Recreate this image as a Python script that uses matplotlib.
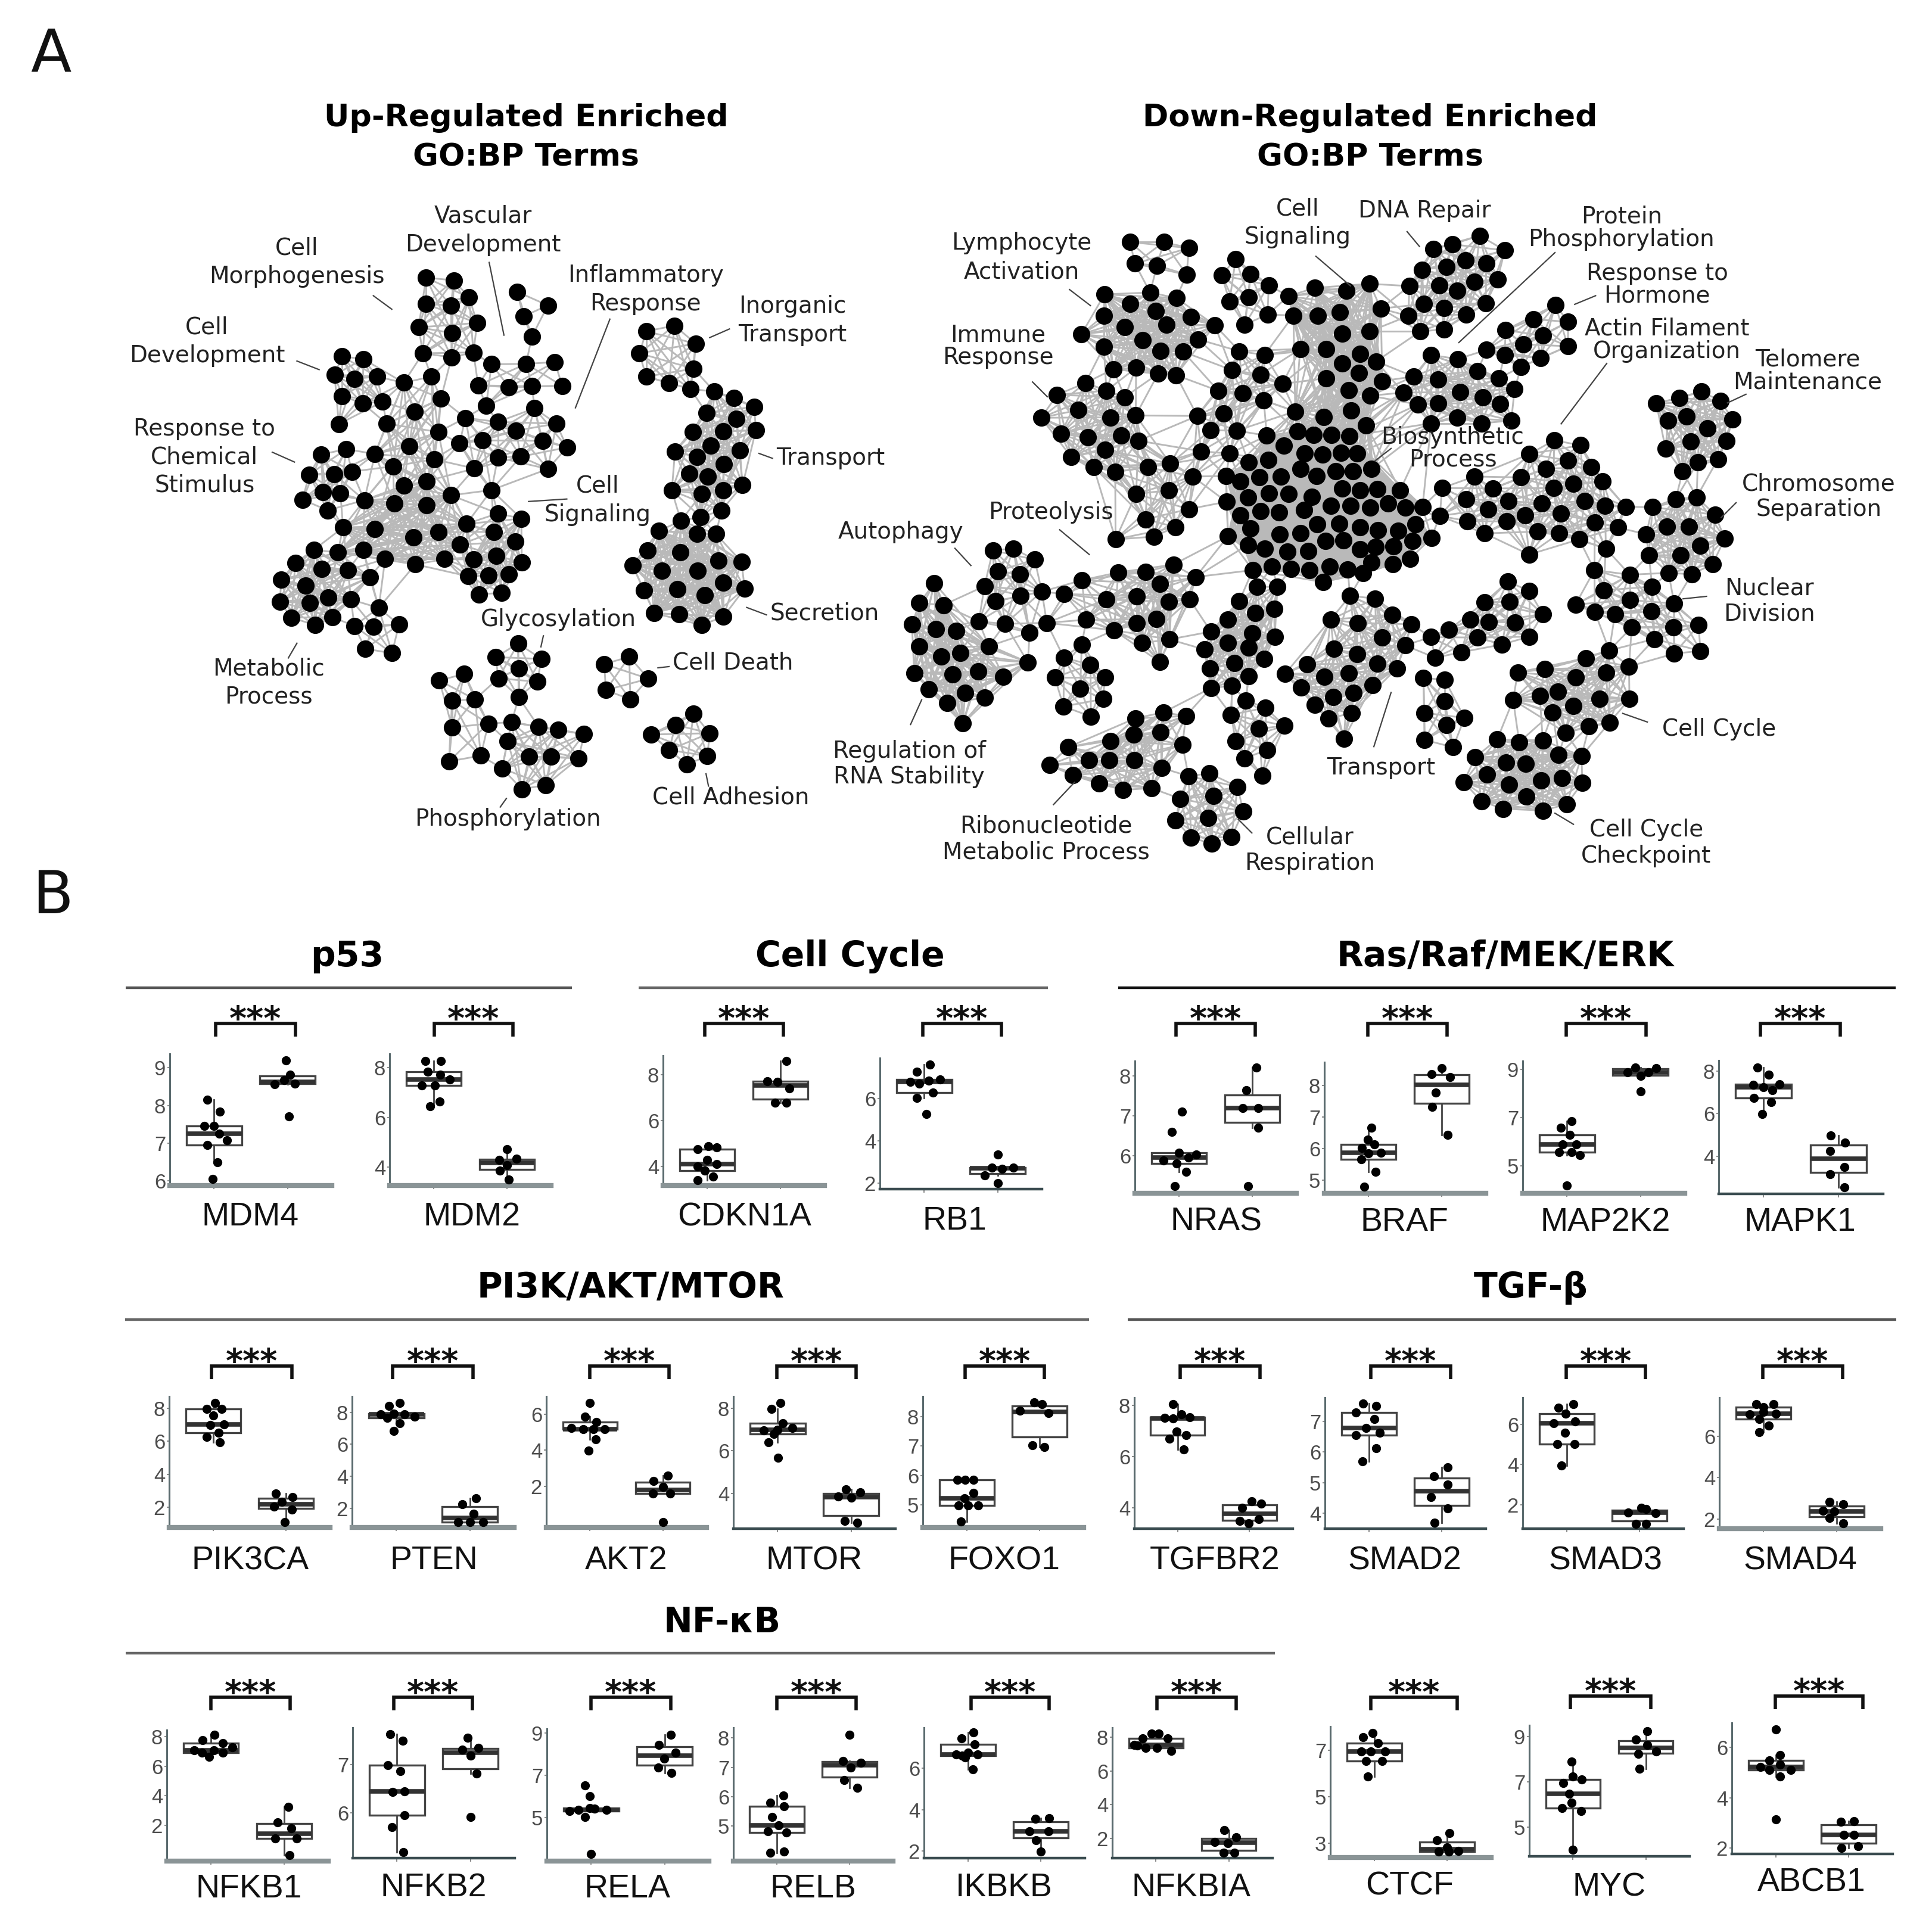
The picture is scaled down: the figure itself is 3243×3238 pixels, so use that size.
import matplotlib
matplotlib.use("Agg")
import matplotlib.pyplot as plt
from matplotlib.collections import LineCollection
import numpy as np

W, H = 3243, 3238
THUMB = 3243 / 1568

# ---- network nodes, in the coordinates of the three crops they were read from
UP_CLUSTERS = {
    "u1": [(633,225),(685,231),(633,285),(680,288),(714,270),(619,338),(682,351),(729,328),(627,397),(681,406),(722,395)],
    "u2": [(804,257),(862,288),(816,313),(832,359)],
    "u3": [(821,421),(875,417),(789,474),(832,472),(889,471),(756,422),(731,470),(746,516)],
    "u4": [(837,522),(878,557),(802,573),(852,596),(898,611),(768,553),(707,544),(696,602),(739,595),(768,634),(811,632),(724,659),(862,660),(756,708)],
    "u5": [(475,404),(515,410),(461,446),(498,455),(541,450),(475,494),(514,511),(551,507),(469,558)],
    "u6": [(591,464),(643,450),(661,500),(611,530),(559,557),(656,576),(601,608),(537,626),(648,638),(571,654)],
    "u7": [(483,615),(436,627),(413,673),(460,672),(494,666),(439,713),(472,716),(401,730),(448,754)],
    "u8": [(591,698),(634,688),(680,720),(517,731),(573,739),(634,743),(477,793),(536,796),(609,816),(656,804),(709,785),(515,844),(467,850),(556,865),(613,877),(668,865),(697,832)],
    "u9": [(768,761),(812,773),(761,803),(801,825),(722,866),(765,857),(813,873),(712,904),(750,902),(788,899),(732,945),(775,942)],
    "u10": [(422,844),(387,874),(437,888),(486,890),(527,906),(361,912),(407,925),(358,962),(414,965),(449,952),(492,957),(380,998),(424,1015),(457,997)],
    "u11": [(544,976),(498,1017),(534,1019),(582,1014),(519,1069),(569,1079)],
    "inorganic": [(1047,347),(1100,334),(1140,375),(1034,397),(1136,432),(1047,450),(1090,465),(1130,478)],
    "transport": [(1175,484),(1212,498),(1250,519),(1160,532),(1216,546),(1253,572),(1135,576),(1192,575),(1168,607),(1223,618),(1101,620),(1142,633),(1193,649),(1128,670),(1163,678),(1228,697),(1095,709),(1151,717),(1192,708),(1188,755),(1149,769)],
    "secretion": [(1112,778),(1071,801),(1142,808),(1178,808),(1050,846),(1111,850),(1021,879),(1076,892),(1144,891),(1183,869),(1226,871),(1192,918),(1043,936),(1105,934),(1157,947),(1232,932),(1062,988),(1109,991),(1192,996),(1151,1015)],
    "glyco": [(806,1057),(764,1088),(850,1092),(807,1114),(769,1136),(842,1144),(807,1179)],
    "phos_l": [(658,1141),(705,1126),(682,1187),(725,1184),(682,1248),(750,1239),(676,1325),(736,1312)],
    "phos_r": [(794,1236),(786,1279),(845,1247),(882,1253),(930,1263),(827,1314),(868,1314),(920,1318),(776,1341),(813,1388),(858,1379)],
    "death": [(968,1104),(1015,1087),(1051,1137),(971,1163),(1017,1184)],
    "adhesion": [(1136,1216),(1102,1242),(1056,1264),(1166,1261),(1090,1299),(1162,1313),(1123,1332)],
}
DOWN_L_CLUSTERS = {
    "d1": [(779,138),(868,138),(934,151),(792,185),(850,189),(928,209)],
    "d2": [(712,252),(832,248),(901,260),(780,273),(846,288),(710,298),(940,301),(765,323),(875,318),(1002,319),(651,339),(813,352),(958,350),(710,366),(860,375),(919,377),(735,415),(795,412),(853,425),(900,428)],
    "d3": [(1057,175),(1020,210),(1096,208),(1144,232),(1041,267),(1091,258),(1141,296),(1081,318)],
    "d4": [(662,445),(717,462),(587,471),(765,476),(643,504),(545,521),(727,520),(794,516),(597,556),(668,564),(755,559),(801,571),(714,591),(624,606),(683,628),(740,639),(826,629),(885,621),(944,649),(795,687),(881,679),(934,720),(820,742),(898,759),(842,780),(741,786)],
    "d5": [(1067,376),(1133,384),(1047,417),(1122,427),(1180,447),(1011,462),(1075,467),(1131,483),(956,517),(1026,512),(991,548),(1060,549),(966,594),(1041,599)],
    "d6": [(1265,238),(1349,244),(1410,229),(1196,256),(1439,283),(1209,298),(1273,299),(1332,291),(1338,337),(1409,333),(1227,371),(1295,371),(1385,382),(1337,403),(1427,398),(1295,435),(1381,423),(1443,441),(1355,461),(1411,473),(1361,505),(1214,507),(1289,519),(1401,538)],
    "d7": [(1139,560),(1220,551),(1263,558),(1310,558),(1357,561),(1184,582),(1238,599),(1285,601),(1335,597),(1377,598),(1091,618),(1143,613),(1227,632),(1321,637),(1366,637),(1415,632),(1032,648),(1070,659),(1120,650),(1176,649),(1270,648),(1337,675),(1384,679),(1430,677),(1490,679),(1090,694),(1145,685),(1197,687),(1257,693),(1033,704),(1070,733),(1123,725),(1172,727),(1237,722),(1307,713),(1360,713),(1411,717),(1458,707),(1503,717),(1549,715),(1096,762),(1173,775),(1227,773),(1271,753),(1330,752),(1385,760),(1431,766),(1485,767),(1530,753),(1037,779),(1089,798),(1134,806),(1193,813),(1248,811),(1293,790),(1340,788),(1385,808),(1426,802),(1473,801),(1522,790),(1153,845),(1203,850),(1251,853),(1304,845),(1352,852),(1393,860),(1415,836),(1471,840),(1516,828),(1102,853),(1287,879),(1572,783)],
    "d8": [(893,841),(748,858),(820,857),(652,875),(857,883),(952,868),(606,905),(716,917),(797,910),(882,922),(936,917),(664,961),(560,968),(797,968),(849,960),(737,984),(811,1012),(883,1004),(857,1053)],
    "d9": [(418,810),(472,806),(528,830),(431,855),(489,862),(396,888),(547,900),(491,909),(425,921),(381,965),(450,970),(515,989)],
    "d10": [(264,881),(225,925),(288,929),(205,971),(268,981),(321,985),(225,1019),(283,1041),(333,1034),(407,1019),(211,1077),(312,1080),(379,1074),(446,1085),(510,1054),(250,1113),(345,1120),(397,1131),(298,1143),(339,1187)],
    "d11": [(652,1015),(605,1044),(675,1059),(581,1087),(713,1087),(648,1111),(708,1134),(604,1150),(676,1172)],
    "d12": [(1114,890),(1167,889),(1067,920),(1158,938),(1108,947),(1036,961),(992,987),(1100,990),(1160,998),(1036,1012),(975,1026),(1092,1022),(1053,1055),(1132,1047),(989,1067),(1091,1084),(992,1110),(1048,1105)],
    "d13": [(1084,1137),(1135,1153),(1045,1168),(1186,1192),(1118,1199),(1057,1226),(1140,1245),(1080,1263),(1127,1301)],
    "d14": [(867,1163),(926,1171),(793,1176),(860,1206),(788,1211),(917,1234),(727,1225),(671,1267),(725,1267),(791,1267),(862,1284),(697,1318),(761,1332),(835,1328),(616,1239),(567,1278),(628,1300)],
    "d15": [(933,1302),(988,1296),(1062,1325),(911,1351),(999,1345),(1077,1379),(985,1393),(899,1398),(1046,1435),(940,1436),(994,1449)],
    "d16": [(1358,909),(1424,915),(1307,961),(1378,968),(1469,950),(1520,971),(1443,1000),(1315,1024),(1503,1017),(1377,1036),(1430,1057),(1481,1067),(1354,1077),(1290,1085),(1245,1058),(1187,1079),(1230,1109),(1417,1104),(1368,1121),(1314,1130),(1265,1147),(1362,1165),(1302,1176),(1342,1220)],
}
DOWN_R_CLUSTERS = {
    "dna": [(445,124),(373,143),(323,153),(511,156),(408,178),(462,185),(358,192),(293,198),(431,225),(492,219),(338,233),(386,244),(260,234),(298,273),(351,282),(461,272),(409,296),(257,299),(288,333),(351,328)],
    "hormone": [(644,275),(586,306),(678,312),(513,330),(611,342),(560,361),(677,365),(463,373),(511,384),(606,391),(554,410)],
    "protphos": [(317,384),(387,393),(439,420),(271,431),(495,435),(336,438),(393,465),(537,458),(244,466),(283,492),(336,489),(453,477),(499,491),(386,521),(317,533),(450,533),(528,527)],
    "actin": [(641,570),(710,581),(576,600),(678,614),(739,628),(619,632),(554,651),(769,659),(639,674),(692,665),(431,649),(346,674),(480,675),(409,698),(520,703),(609,707),(721,703),(775,713),(829,715),(340,735),(467,720),(564,733),(658,730),(413,746),(516,747),(748,749),(809,760),(597,769),(654,773),(458,773),(707,786),(777,806),(575,819)],
    "telomere": [(1028,464),(971,478),(1079,484),(910,490),(989,518),(941,527),(1110,524),(1045,544),(1001,573),(1095,571),(934,588),(1072,611),(1019,618),(979,638)],
    "chromo": [(1016,694),(961,698),(900,716),(1064,732),(938,758),(995,758),(883,775),(1090,784),(1026,800),(890,820),(974,821),(1058,840),(942,859),(1003,862)],
    "nuclear": [(747,853),(840,863),(899,889),(771,897),(840,918),(957,926),(697,928),(748,944),(801,949),(897,943),(845,978),(955,978),(1021,973),(905,1003),(957,1035),(1026,1029)],
    "tr_right": [(519,878),(575,898),(458,923),(523,922),(611,949),(421,961),(469,966),(538,967),(364,983),(316,999),(439,1000),(575,998),(504,1015),(396,1032),(328,1044)],
    "tr_small": [(297,1088),(353,1092),(353,1139),(299,1164),(405,1175),(357,1190),(300,1223),(375,1239)],
    "cycle": [(786,1028),(725,1045),(838,1063),(777,1076),(697,1087),(545,1076),(616,1069),(650,1118),(603,1127),(533,1136),(760,1133),(839,1134),(691,1149),(637,1163),(787,1185),(733,1193),(671,1207)],
    "checkpoint": [(491,1222),(549,1228),(611,1224),(653,1255),(713,1258),(433,1261),(514,1273),(566,1275),(464,1298),(403,1315),(607,1311),(661,1306),(715,1317),(522,1321),(567,1346),(450,1357),(507,1373),(612,1377),(674,1363)],
}
DENSE = {"u8": 240, "secretion": 210, "d7": 210, "inorganic": 190, "d2": 165, "d6": 190, "d10": 165, "d4": 130, "d5": 125,
         "d8": 140, "d12": 135, "d14": 150, "d15": 140, "checkpoint": 160, "cycle": 145, "d16": 125, "chromo": 150,
         "telomere": 150, "nuclear": 115, "protphos": 130, "u9": 150, "u6": 150, "u10": 145, "transport": 120, "phos_r": 125}
LINKS = [("u1","u6",4),("u1","u3",2),("u5","u6",7),("u6","u8",30),("u7","u8",8),("u8","u9",25),("u8","u10",14),
         ("u10","u11",5),("u8","u4",5),("u4","u3",3),("u4","u6",5),("u9","u4",3),("u3","u2",1),("u7","u6",4),("u8","u11",3),
         ("inorganic","transport",3),("transport","secretion",8),("glyco","phos_r",2),("phos_l","phos_r",3),("glyco","phos_l",1),
         ("d1","d2",3),("d2","d4",10),("d2","d5",8),("d3","d6",3),("d4","d5",16),("d5","d6",14),("d5","d7",12),("d6","d7",110),
         ("d6","dna",9),("d6","protphos",10),("protphos","d7",12),("protphos","hormone",5),("d7","actin",5),
         ("actin","chromo",2),("actin","nuclear",5),("chromo","telomere",5),("chromo","nuclear",6),("nuclear","cycle",7),
         ("cycle","checkpoint",12),("d7","d12",6),("d7","d16",2),("d8","d7",4),("d8","d9",6),("d8","d11",3),("d9","d10",10),
         ("d12","d13",4),("d12","d14",2),("d14","d15",3),("d16","tr_right",3),("d8","d12",3),("d4","d7",3),("d13","d12",3)]

# ---- text and leader lines of panel A, positions in the downsized view
NET_LABELS = [
    ("Cell\nMorphogenesis",241,213,1.32),("Vascular\nDevelopment",392,187,1.32),("Inflammatory\nResponse",524,235,1.32),
    ("Inorganic\nTransport",643,260,1.32),("Cell\nDevelopment",168,277,1.32),("Response to\nChemical\nStimulus",166,371,1.32),
    ("Transport",674,372,1.32),("Cell\nSignaling",485,406,1.32),("Secretion",669,498,1.32),("Glycosylation",453,503,1.32),
    ("Cell Death",595,538,1.32),("Metabolic\nProcess",218,554,1.32),("Phosphorylation",412,665,1.32),("Cell Adhesion",593,647,1.32),
    ("Lymphocyte\nActivation",829,209,1.32),("Cell\nSignaling",1053,181,1.32),("DNA Repair",1156,171,1.32),
    ("Protein\nPhosphorylation",1316,185,1.0),("Response to\nHormone",1345,231,1.0),("Actin Filament\nOrganization",1353,276,1.0),
    ("Telomere\nMaintenance",1467,301,1.0),("Immune\nResponse",810,281,1.0),("Biosynthetic\nProcess",1179,364,1.0),
    ("Chromosome\nSeparation",1476,403,1.15),("Proteolysis",853,416,1.32),("Autophagy",731,432,1.32),("Nuclear\nDivision",1436,488,1.17),
    ("Cell Cycle",1395,592,1.32),("Transport",1121,623,1.32),("Regulation of\nRNA Stability",738,620,1.17),
    ("Ribonucleotide\nMetabolic Process",849,681,1.17),("Cellular\nRespiration",1063,690,1.2),("Cell Cycle\nCheckpoint",1336,684,1.2),
]
LEADERS = [
    (303,240,318,251),(397,213,409,272),(495,259,467,331),(576,274,592,267),(241,293,259,300),(221,367,239,375),
    (616,368,627,372),(429,407,460,405),(606,493,622,499),(441,516,439,525),(534,542,543,541),(241,522,234,534),
    (411,648,406,655),(573,628,575,638),(868,235,885,248),(1068,208,1096,232),(1142,188,1152,200),(1184,278,1262,205),
    (1278,247,1295,240),(1267,344,1304,295),(1402,327,1417,320),(838,310,850,322),(1116,374,1129,364),(1397,420,1409,408),
    (860,430,884,450),(775,445,788,459),(1366,486,1385,484),(1317,579,1337,586),(1129,562,1115,606),(748,568,739,588),
    (872,635,855,653),(1005,665,1016,676),(1262,660,1277,669),
]

# ---- panel B values
VALUES_CTRL = {
    "MDM4": [8.15,7.84,7.45,7.45,7.24,7.07,6.95,6.49,6.04], "MDM2": [8.28,8.28,7.85,7.73,7.52,7.3,7.28,6.64,6.45],
    "CDKN1A": [4.74,4.88,4.84,4.28,4.09,4.0,3.81,3.55,3.4], "RB1": [7.6,7.28,6.78,6.71,6.86,6.9,6.27,6.03,5.26],
    "NRAS": [7.11,6.6,6.08,6.04,5.89,5.96,5.82,5.6,5.25], "BRAF": [6.67,6.28,6.03,6.14,5.87,5.86,5.66,5.26,4.8],
    "MAP2K2": [6.86,6.59,6.28,5.9,5.9,5.57,5.57,5.46,4.18], "MAPK1": [8.17,7.82,7.35,7.25,7.37,7.1,6.72,6.53,5.98],
    "PIK3CA": [8.32,7.94,7.94,7.55,6.97,7.0,6.52,6.26,5.94], "PTEN": [8.6,8.4,7.87,7.93,7.87,7.73,7.67,7.33,6.84],
    "AKT2": [6.65,5.88,5.58,5.23,5.17,5.17,5.17,4.6,3.98], "MTOR": [8.23,7.97,7.3,6.95,7.0,7.07,6.8,6.4,5.67],
    "FOXO1": [5.86,5.86,5.86,5.42,5.23,4.98,4.98,4.98,4.44], "TGFBR2": [8.04,7.63,7.5,7.48,7.53,6.97,6.84,6.68,6.28],
    "SMAD2": [7.58,7.51,7.3,7.08,6.78,6.56,6.63,6.12,5.7], "SMAD3": [7.0,6.81,6.53,6.05,6.13,5.58,5.02,5.02,3.95],
    "SMAD4": [7.54,7.54,7.38,7.06,7.08,7.16,6.82,6.51,6.2], "NFKB1": [8.14,7.76,7.56,7.07,7.28,6.65,6.93,6.93,7.07],
    "NFKB2": [7.63,7.49,6.99,6.86,6.43,6.45,5.96,5.71,5.19], "RELA": [6.52,6.03,5.31,5.38,5.43,5.38,5.45,5.04,3.29],
    "RELB": [6.03,5.79,5.67,5.31,5.03,4.82,4.78,4.09,4.13], "IKBKB": [7.72,7.42,7.13,6.64,6.51,6.64,6.74,6.6,5.95],
    "NFKBIA": [8.22,8.22,7.94,7.94,7.54,7.39,7.39,7.19,7.5], "CTCF": [7.73,7.55,7.29,6.94,6.94,6.94,6.52,6.52,5.87],
    "MYC": [7.89,7.24,6.95,7.11,6.48,6.09,5.85,5.71,4.0], "ABCB1": [6.71,5.71,5.49,5.22,5.31,5.1,5.1,4.84,3.14],
}
JITTER_CTRL = {
    "MDM4": [-.09,.08,-.13,0,.07,.18,-.09,.05,-.02], "MDM2": [-.11,.1,-.08,.09,.22,-.16,.02,.08,-.05],
    "CDKN1A": [-.13,.02,.13,0,.13,-.13,-.03,.08,-.13], "RB1": [.08,-.1,-.19,-.07,.06,.22,.12,-.1,.03],
    "NRAS": [.04,-.1,0,.24,-.21,.13,-.03,.1,-.06], "BRAF": [.04,-.01,-.09,.08,.17,0,-.1,.1,-.06],
    "MAP2K2": [.06,-.08,.04,-.06,.13,-.11,.06,.18,0], "MAPK1": [-.08,.07,-.14,0,.21,.12,-.13,.1,-.02],
    "PIK3CA": [.03,-.09,.12,0,-.04,.15,.08,-.09,.09], "PTEN": [.05,-.1,-.21,-.03,.11,.25,-.12,.05,-.03],
    "AKT2": [0,-.07,.09,-.26,-.09,.05,.2,.08,-.02], "MTOR": [.04,-.08,.07,-.19,0,.2,-.05,-.12,.01],
    "FOXO1": [-.13,.09,-.02,.09,-.03,-.11,.02,.16,-.08], "TGFBR2": [-.06,.05,-.18,-.06,.17,-.01,.12,-.11,.09],
    "SMAD2": [-.08,.1,-.18,.08,-.04,-.18,.15,.1,-.09], "SMAD3": [.09,-.11,-.01,-.18,.12,-.02,-.13,.11,-.07],
    "SMAD4": [-.1,.14,0,-.19,.17,0,-.06,.07,-.06], "NFKB1": [.05,-.11,.16,-.23,.29,-.02,-.12,.16,.04],
    "NFKB2": [-.09,.08,-.12,.05,-.06,.1,.1,-.07,.09], "RELA": [-.08,-.02,-.29,-.17,.05,.21,-.02,-.08,0],
    "RELB": [.09,-.09,.1,-.07,.02,-.12,.13,-.09,.1], "IKBKB": [.08,-.09,.09,-.16,-.04,.13,0,-.08,.07],
    "NFKBIA": [-.06,.04,-.18,.16,-.3,-.14,.01,.21,-.26], "CTCF": [-.02,-.15,.05,-.18,-.05,.15,-.11,.11,-.09],
    "MYC": [-.02,0,-.13,.12,-.05,-.02,-.15,.11,0], "ABCB1": [0,.06,-.09,-.21,.06,-.09,.21,.06,0],
}
VALUES_CASE = {
    "MDM4": [9.19,8.81,8.68,8.57,8.58,7.7], "MDM2": [4.72,4.34,4.28,4.08,3.85,3.5], "CDKN1A": [8.6,7.72,7.69,7.4,6.79,6.79],
    "RB1": [3.34,2.72,2.67,2.74,2.36,1.99], "NRAS": [8.2,7.64,7.2,7.2,6.71,5.25], "BRAF": [8.56,8.36,8.27,7.78,7.32,6.43],
    "MAP2K2": [9.09,9.06,8.88,8.89,8.73,8.1], "MAPK1": [4.97,4.62,4.25,3.48,3.15,2.52], "PIK3CA": [2.84,2.61,2.32,2.03,1.87,1.1],
    "PTEN": [2.63,2.27,1.67,1.13,1.13,1.13], "AKT2": [2.58,2.29,1.95,1.6,1.6,-0.01], "MTOR": [4.2,4.05,3.87,3.8,2.7,2.63],
    "FOXO1": [8.47,8.41,8.19,8.11,7.03,6.96], "TGFBR2": [4.26,4.16,3.99,3.5,3.55,3.41], "SMAD2": [5.51,5.22,4.94,4.53,4.16,3.7],
    "SMAD3": [1.84,1.63,1.79,1.6,1.07,1.07], "SMAD4": [2.84,2.72,2.41,2.36,2.05,1.79], "NFKB1": [3.25,2.21,1.79,1.1,1.1,-0.01],
    "NFKB2": [7.55,7.31,7.34,7.18,6.82,5.92], "RELA": [8.94,8.46,8.08,7.81,7.37,7.13], "RELB": [8.1,7.22,7.15,6.99,6.57,6.31],
    "IKBKB": [3.55,3.6,2.96,2.96,2.52,1.98], "NFKBIA": [2.48,2.06,1.79,1.7,1.15,1.15], "CTCF": [3.43,3.14,2.82,2.68,2.64,2.64],
    "MYC": [9.23,8.86,8.64,8.34,8.23,7.58], "ABCB1": [3.04,3.06,2.53,2.53,2.08,2.0],
}
JITTER_CASE = {
    "MDM4": [-.02,.03,-.05,-.18,.1,.02], "MDM2": [0,.13,-.11,0,-.1,.02], "CDKN1A": [.08,-.18,-.04,.12,-.07,.08],
    "RB1": [0,-.08,.06,.21,-.18,0], "NRAS": [.06,-.08,-.13,.08,.08,-.06], "BRAF": [0,-.14,.11,-.08,-.13,.08],
    "MAP2K2": [-.07,.21,-.18,.11,0,0], "MAPK1": [-.1,.09,-.11,.08,-.11,.08], "PIK3CA": [-.14,.09,-.06,-.17,.08,-.02],
    "PTEN": [.08,-.1,.05,-.16,0,.18], "AKT2": [.07,-.13,0,-.14,.1,0], "MTOR": [-.07,.12,-.18,0,-.09,.08],
    "FOXO1": [-.08,.03,-.27,.12,-.1,.06], "TGFBR2": [.03,.16,-.1,-.14,.13,-.01], "SMAD2": [.08,-.11,.08,-.15,.08,-.1],
    "SMAD3": [.02,-.16,.09,.22,-.05,.09], "SMAD4": [-.1,.09,-.19,-.03,-.1,.09], "NFKB1": [.06,-.09,.1,-.12,.17,.07],
    "NFKB2": [-.04,-.11,.11,0,.08,0], "RELA": [.08,-.08,.15,-.01,-.09,.09], "RELB": [0,-.09,.16,.02,-.07,.11],
    "IKBKB": [-.08,.11,-.16,.1,-.07,0], "NFKBIA": [-.06,.1,-.19,-.01,-.07,.08], "CTCF": [.03,-.14,0,.15,-.12,.02],
    "MYC": [.02,-.14,.02,.14,-.1,-.09], "ABCB1": [-.11,.07,-.07,.07,.13,-.1],
}
YTICKS = {
    "MDM4": [6,7,8,9], "MDM2": [4,6,8], "CDKN1A": [4,6,8], "RB1": [2,4,6], "NRAS": [6,7,8], "BRAF": [5,6,7,8],
    "MAP2K2": [5,7,9], "MAPK1": [4,6,8], "PIK3CA": [2,4,6,8], "PTEN": [2,4,6,8], "AKT2": [2,4,6], "MTOR": [4,6,8],
    "FOXO1": [5,6,7,8], "TGFBR2": [4,6,8], "SMAD2": [4,5,6,7], "SMAD3": [2,4,6], "SMAD4": [2,4,6], "NFKB1": [2,4,6,8],
    "NFKB2": [6,7], "RELA": [5,7,9], "RELB": [5,6,7,8], "IKBKB": [2,4,6], "NFKBIA": [2,4,6,8], "CTCF": [3,5,7],
    "MYC": [5,7,9], "ABCB1": [2,4,6],
}
YLIMS = {
    "MDM4": (5.87,9.37), "MDM2": (3.26,8.56), "CDKN1A": (3.16,8.84), "RB1": (1.71,7.92), "NRAS": (5.07,8.37),
    "BRAF": (4.59,8.74), "MAP2K2": (3.87,9.35), "MAPK1": (2.22,8.5), "PIK3CA": (.77,8.71), "PTEN": (.8,9.0),
    "AKT2": (-.31,7.01), "MTOR": (2.35,8.55), "FOXO1": (4.24,8.68), "TGFBR2": (3.19,8.29), "SMAD2": (3.5,7.78),
    "SMAD3": (.82,7.32), "SMAD4": (1.54,7.85), "NFKB1": (-.43,8.46), "NFKB2": (5.07,7.76), "RELA": (2.95,9.21),
    "RELB": (3.81,8.35), "IKBKB": (1.67,7.94), "NFKBIA": (.82,8.58), "CTCF": (2.39,8.01), "MYC": (3.71,9.5),
    "ABCB1": (1.76,6.98),
}

# ---- panel B layout in pixels: left, right, bottom, top
AXES_BOX = {
    "MDM4": (285,557,1990,1769), "MDM2": (654,925,1990,1769), "CDKN1A": (1113,1384,1990,1772), "RB1": (1477,1749,1996,1776),
    "NRAS": (1905,2176,2003,1781), "BRAF": (2223,2494,2003,1783), "MAP2K2": (2556,2828,2003,1781), "MAPK1": (2885,3161,2004,1780),
    "PIK3CA": (284,554,2564,2344), "PTEN": (591,863,2564,2344), "AKT2": (917,1186,2564,2344), "MTOR": (1231,1503,2566,2344),
    "FOXO1": (1549,1819,2564,2344), "TGFBR2": (1904,2170,2566,2346), "SMAD2": (2224,2494,2566,2346), "SMAD3": (2556,2826,2566,2346),
    "SMAD4": (2886,3157,2566,2346), "NFKB1": (280,551,3124,2904), "NFKB2": (592,864,3119,2900), "RELA": (918,1190,3124,2902),
    "RELB": (1231,1499,3124,2900), "IKBKB": (1551,1821,3119,2900), "NFKBIA": (1867,2136,3119,2900), "CTCF": (2233,2503,3118,2898),
    "MYC": (2567,2836,3116,2896), "ABCB1": (2907,3177,3112,2892),
}
BRACKETS = {
    "MDM4": (362,496,1718), "MDM2": (729,861,1718), "CDKN1A": (1183,1315,1718), "RB1": (1549,1681,1718),
    "NRAS": (1974,2107,1718), "BRAF": (2296,2429,1718), "MAP2K2": (2629,2763,1718), "MAPK1": (2955,3089,1718),
    "PIK3CA": (355,490,2293), "PTEN": (659,794,2293), "AKT2": (990,1123,2293), "MTOR": (1304,1437,2293), "FOXO1": (1620,1753,2293),
    "TGFBR2": (1981,2115,2293), "SMAD2": (2301,2435,2293), "SMAD3": (2629,2762,2293), "SMAD4": (2959,3093,2293),
    "NFKB1": (354,487,2849), "NFKB2": (661,793,2849), "RELA": (992,1126,2849), "RELB": (1304,1437,2849), "IKBKB": (1630,1761,2849),
    "NFKBIA": (1942,2075,2849), "CTCF": (2301,2446,2849), "MYC": (2636,2771,2847), "ABCB1": (2980,3127,2847),
}
GENE_LABEL_POS = {
    "MDM4": (203,988), "MDM2": (383,988), "CDKN1A": (604,988), "RB1": (775,991), "NRAS": (987,992), "BRAF": (1140,992),
    "MAP2K2": (1303,992), "MAPK1": (1461,992), "PIK3CA": (203,1267), "PTEN": (352,1267), "AKT2": (508,1267), "MTOR": (661,1267),
    "FOXO1": (815,1267), "TGFBR2": (986,1267), "SMAD2": (1140,1267), "SMAD3": (1303,1267), "SMAD4": (1461,1267),
    "NFKB1": (202,1533), "NFKB2": (352,1532), "RELA": (509,1533), "RELB": (660,1533), "IKBKB": (815,1532), "NFKBIA": (967,1532),
    "CTCF": (1144,1531), "MYC": (1306,1532), "ABCB1": (1470,1528),
}
THIN_BASE = {"RB1","MAPK1","MTOR","TGFBR2","SMAD2","SMAD3","NFKB2","IKBKB","NFKBIA","MYC","ABCB1"}
SECTIONS = [
    ("p53",583,1605,211,960,1658,"#555555"), ("Cell Cycle",1427,1605,1072,1759,1658,"#666666"),
    ("Ras/Raf/MEK/ERK",2527,1605,1877,3182,1658,"#111111"), ("PI3K/AKT/MTOR",1059,2161,210,1828,2215,"#666666"),
    ("TGF-β",2570,2161,1893,3183,2215,"#555555"), ("NF-κB",1212,2723,211,2140,2775,"#666666"),
]

plt.rcParams["font.family"] = "DejaVu Sans"
fig = plt.figure(figsize=(W / 100, H / 100), dpi=100, facecolor="white")
bg = fig.add_axes([0, 0, 1, 1])
bg.set_xlim(0, W)
bg.set_ylim(H, 0)
bg.axis("off")


def crop1(pts):
    return np.array(pts, float) * [1400 / 1568, 1150 / 1558] + [150, 300]


def crop2(pts):
    return np.array(pts, float) * [1000 / 1568, 1200 / 1558] + [1400, 300]


def crop3(pts):
    return np.array(pts, float) * [1000 / 1568, 1200 / 1558] + [2200, 300]


clusters = {}
clusters.update({k: crop1(v) for k, v in UP_CLUSTERS.items()})
clusters.update({k: crop2(v) for k, v in DOWN_L_CLUSTERS.items()})
clusters.update({k: crop3(v) for k, v in DOWN_R_CLUSTERS.items()})

segments = []
for name, pts in clusters.items():
    reach = DENSE.get(name, 105)
    for i in range(len(pts)):
        for j in range(i + 1, len(pts)):
            if np.hypot(*(pts[i] - pts[j])) < reach:
                segments.append((pts[i], pts[j]))
for a, b, n in LINKS:
    d = np.linalg.norm(clusters[a][:, None] - clusters[b][None, :], axis=2)
    order = np.argsort(d, axis=None)[:n]
    for i, j in zip(*np.unravel_index(order, d.shape)):
        segments.append((clusters[a][i], clusters[b][j]))
bg.add_collection(LineCollection(segments, colors="#b9b9b9", linewidths=2.1, zorder=1))
allpts = np.vstack(list(clusters.values()))
bg.plot(allpts[:, 0], allpts[:, 1], "o", ms=21, color="black", mew=0, zorder=2)

for x0, y0, x1, y1 in LEADERS:
    bg.plot([x0 * THUMB, x1 * THUMB], [y0 * THUMB, y1 * THUMB], color="#444444", lw=1.6, zorder=3)
for text, x, y, ls in NET_LABELS:
    bg.text(x * THUMB, y * THUMB, text, fontsize=28, ha="center", va="center", linespacing=ls, color="#222222", zorder=4)

bg.text(85, 93, "A", fontsize=72, ha="center", va="center", color="#111111")
bg.text(89, 1505, "B", fontsize=72, ha="center", va="center", color="#111111")
bg.text(883, 231, "Up-Regulated Enriched\nGO:BP Terms", fontsize=37.6, fontweight="bold", ha="center", va="center", linespacing=1.42)
bg.text(2300, 231, "Down-Regulated Enriched\nGO:BP Terms", fontsize=37.6, fontweight="bold", ha="center", va="center", linespacing=1.42)

for title, tx, ty, x0, x1, y, col in SECTIONS:
    bg.text(tx, ty, title, fontsize=42, fontweight="bold", ha="center", va="center")
    bg.plot([x0, x1], [y, y], color=col, lw=3.2, solid_capstyle="butt")

for gene, (left, right, bottom, top) in AXES_BOX.items():
    ax = fig.add_axes([left / W, 1 - bottom / H, (right - left) / W, (bottom - top) / H])
    ax.patch.set_alpha(0)
    ctrl, case = VALUES_CTRL[gene], VALUES_CASE[gene]
    ax.boxplot([ctrl, case], positions=[1, 2], widths=0.75, showfliers=False, showcaps=False, patch_artist=True,
               boxprops=dict(facecolor="white", edgecolor="#444444", linewidth=2.4),
               whiskerprops=dict(color="#444444", linewidth=2.0),
               medianprops=dict(color="#333333", linewidth=5.5, solid_capstyle="butt"))
    ax.plot(1 + np.array(JITTER_CTRL[gene]), ctrl, "o", ms=11, color="black", mew=0, zorder=5, clip_on=False)
    ax.plot(2 + np.array(JITTER_CASE[gene]), case, "o", ms=11, color="black", mew=0, zorder=5, clip_on=False)
    ax.set_xlim(0.4, 2.6)
    ax.set_ylim(*YLIMS[gene])
    ax.set_xticks([1, 2], labels=["", ""])
    ax.set_yticks(YTICKS[gene])
    ax.tick_params(axis="y", labelsize=25, labelcolor="#4d4d4d", color="#777777", length=3, width=1.2, pad=2)
    ax.tick_params(axis="x", color="#777777", length=4, width=1.2)
    for lab in ax.get_yticklabels():
        lab.set_family("Liberation Sans")
    ax.spines[["top", "right"]].set_visible(False)
    ax.spines["left"].set_color("#5a6b6e")
    ax.spines["left"].set_linewidth(2.2)
    thin = gene in THIN_BASE
    ax.spines["bottom"].set_color("#3a4c50" if thin else "#8a9496")
    ax.spines["bottom"].set_linewidth(3.2 if thin else 6.0)

    x0, x1, by = BRACKETS[gene]
    bg.plot([x0, x0, x1, x1], [by + 22, by, by, by + 22], color="#111111", lw=4, solid_joinstyle="miter", solid_capstyle="butt")
    bg.text((x0 + x1) / 2, by + 10, "***", fontsize=40, fontweight="bold", ha="center", va="baseline", color="#111111")
    lx, ly = GENE_LABEL_POS[gene]
    bg.text(lx * THUMB, ly * THUMB, gene, fontsize=40, family="Liberation Sans", ha="center", va="center", color="#111111")

fig.savefig("out.png", dpi=100)
